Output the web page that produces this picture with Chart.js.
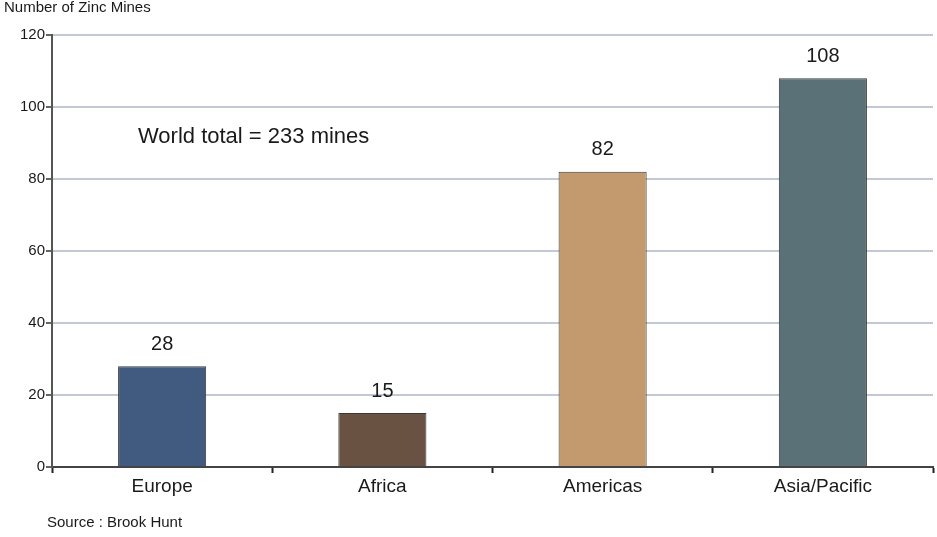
<!DOCTYPE html>
<html>
<head>
<meta charset="utf-8">
<script src="https://cdn.jsdelivr.net/npm/chart.js@4.4.1/dist/chart.umd.min.js"></script>
<style>
  html, body { margin: 0; padding: 0; background: #ffffff; }
  #wrap { width: 937px; height: 537px; position: relative; }
</style>
</head>
<body>
<div id="wrap"><canvas id="c" width="937" height="537"></canvas></div>
<script>
// Zinc mines by region
const regions = ['Europe', 'Africa', 'Americas', 'Asia/Pacific'];
const mineCounts = [28, 15, 82, 108];
const barColors = ['#415b80', '#6a5243', '#c39a6d', '#5a7177'];
const yTicks = [0, 20, 40, 60, 80, 100, 120];
const axisTitle = 'Number of Zinc Mines';
const totalNote = 'World total = 233 mines';
const sourceNote = 'Source : Brook Hunt';

const textPlugin = {
  id: 'textPlugin',
  afterDatasetsDraw(chart) {
    const ctx = chart.ctx;
    const meta = chart.getDatasetMeta(0);
    ctx.save();
    ctx.fillStyle = '#1a1a1a';
    ctx.textAlign = 'center';
    ctx.textBaseline = 'bottom';
    ctx.font = '20px "Liberation Sans", Arial, sans-serif';
    meta.data.forEach((bar, i) => {
      ctx.fillText(String(mineCounts[i]), bar.x, bar.y - 12);
    });
    ctx.textAlign = 'left';
    ctx.textBaseline = 'middle';
    ctx.font = '22px "Liberation Sans", Arial, sans-serif';
    ctx.fillText(totalNote, 138, 137);
    ctx.textBaseline = 'alphabetic';
    ctx.font = '15px "Liberation Sans", Arial, sans-serif';
    ctx.fillText(axisTitle, 4, 12);
    ctx.font = '15px "Liberation Sans Narrow", "Liberation Sans", Arial, sans-serif';
    ctx.fillText(sourceNote, 47, 527);
    ctx.restore();
  }
};

new Chart(document.getElementById('c'), {
  type: 'bar',
  data: {
    labels: regions,
    datasets: [{
      data: mineCounts,
      backgroundColor: barColors,
      borderColor: '#3a3a3a',
      borderWidth: 1,
      barPercentage: 0.4,
      categoryPercentage: 1.0
    }]
  },
  options: {
    responsive: false,
    animation: false,
    layout: { padding: { top: 35, right: 4, bottom: 30, left: 0 } },
    plugins: { legend: { display: false }, tooltip: { enabled: false } },
    scales: {
      x: {
        grid: {
          offset: true,
          drawOnChartArea: false,
          drawTicks: true,
          tickLength: 6,
          tickColor: '#222',
          tickWidth: 2
        },
        border: { display: true, color: '#444', width: 2 },
        ticks: {
          color: '#1a1a1a',
          padding: 2,
          font: { family: '"Liberation Sans", Arial, sans-serif', size: 19 }
        },
        afterFit(scale) { scale.height = 40; }
      },
      y: {
        min: 0,
        max: 120,
        afterBuildTicks(scale) { scale.ticks = yTicks.map(v => ({ value: v })); },
        grid: {
          color: '#c2c9d5',
          lineWidth: 2,
          drawTicks: true,
          tickLength: 6,
          tickColor: '#333',
          tickWidth: 1.5
        },
        border: { display: true, color: '#555', width: 2 },
        ticks: {
          color: '#1a1a1a',
          padding: 1,
          font: { family: '"Liberation Sans", Arial, sans-serif', size: 15 }
        },
        afterFit(scale) { scale.width = 52; }
      }
    }
  },
  plugins: [textPlugin]
});
</script>
</body>
</html>
